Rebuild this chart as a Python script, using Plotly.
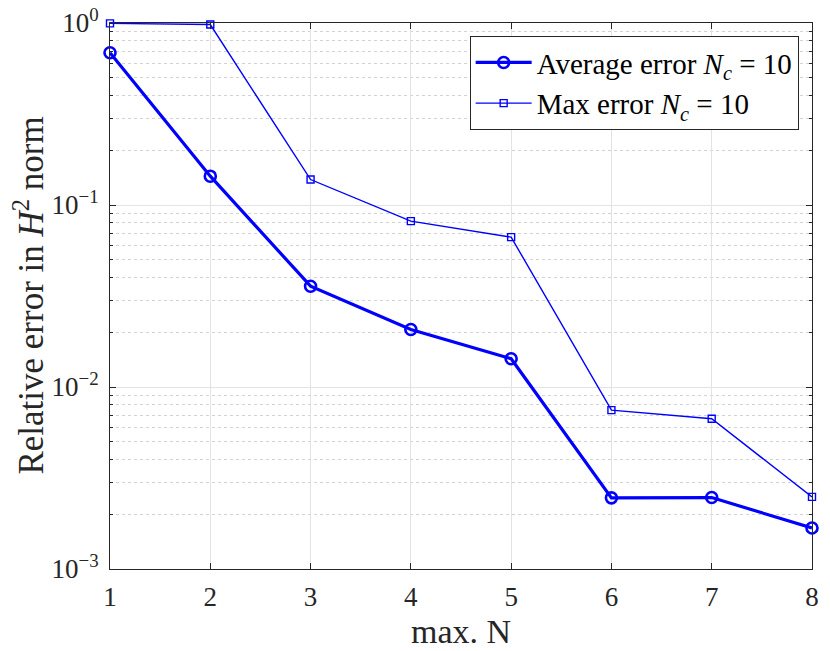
import plotly.graph_objects as go

max_n = [1, 2, 3, 4, 5, 6, 7, 8]
avg_error = [0.686, 0.144, 0.0358, 0.0207, 0.0143, 0.00246, 0.00247, 0.00168]
max_error = [0.995, 0.981, 0.138, 0.0815, 0.0666, 0.00746, 0.00669, 0.00249]

y_tickvals = [1e-3, 1e-2, 1e-1, 1e0]
y_ticktext = ["10<sup>−3</sup>", "10<sup>−2</sup>", "10<sup>−1</sup>", "10<sup>0</sup>"]
minor_vals = [m * 10.0 ** e for e in (-3, -2, -1) for m in range(2, 10)]

x_title = "max. N"
y_title = "Relative error in <i>H</i><sup>2</sup> norm"
legend_names = ["Average error <i>N</i><sub><i>c</i></sub> = 10",
                "Max error <i>N</i><sub><i>c</i></sub> = 10"]

FONT = "Liberation Serif"
BLUE = "#0000FF"
AXC = "#262626"

fig = go.Figure()
fig.add_trace(go.Scatter(
    x=max_n, y=avg_error, mode="lines+markers",
    name=legend_names[0],
    line=dict(color=BLUE, width=3.2),
    marker=dict(symbol="circle-open", size=11, color=BLUE, line=dict(width=2.6, color=BLUE)),
    cliponaxis=False,
))
fig.add_trace(go.Scatter(
    x=max_n, y=max_error, mode="lines+markers",
    name=legend_names[1],
    line=dict(color=BLUE, width=1.4),
    marker=dict(symbol="square-open", size=7, color=BLUE, line=dict(width=1.4, color=BLUE)),
    cliponaxis=False,
))

fig.update_layout(
    width=822, height=643,
    margin=dict(l=102, r=18, t=15, b=82, autoexpand=False),
    paper_bgcolor="white", plot_bgcolor="white",
    font=dict(family=FONT, size=27, color=AXC),
    legend=dict(
        x=0.981, y=0.976, xanchor="right", yanchor="top",
        bgcolor="white", bordercolor=AXC, borderwidth=1,
        font=dict(family=FONT, size=29, color="black"),
        tracegroupgap=0, itemwidth=56,
    ),
    showlegend=True,
    annotations=[
        dict(text=x_title, xref="paper", yref="paper", x=0.5, y=-0.115,
             xanchor="center", yanchor="middle", showarrow=False,
             font=dict(family=FONT, size=34, color=AXC)),
        dict(text=y_title, xref="paper", yref="paper", x=-0.116, y=0.5,
             xanchor="center", yanchor="middle", showarrow=False, textangle=-90,
             font=dict(family=FONT, size=35, color=AXC)),
    ],
)
fig.update_xaxes(
    range=[1, 8], tickvals=max_n, ticktext=[str(v) for v in max_n],
    showline=True, linecolor=AXC, linewidth=1, mirror="ticks",
    ticks="inside", ticklen=6, tickcolor=AXC, automargin=False,
    showgrid=True, gridcolor="#e3e3e3", gridwidth=1,
    zeroline=False, ticklabeloverflow="allow", ticklabelstandoff=4,
    tickfont=dict(family=FONT, size=27, color=AXC),
)
fig.update_yaxes(
    type="log", range=[-3, 0], tickvals=y_tickvals, ticktext=y_ticktext,
    showline=True, linecolor=AXC, linewidth=1, mirror="ticks",
    ticks="inside", ticklen=6, tickcolor=AXC, automargin=False,
    showgrid=True, gridcolor="#e3e3e3", gridwidth=1,
    zeroline=False, ticklabeloverflow="allow", ticklabelstandoff=5,
    minor=dict(tickvals=minor_vals, ticks="inside", ticklen=3, tickcolor=AXC,
               showgrid=True, gridcolor="#d2d2d2", griddash="dot", gridwidth=1),
    tickfont=dict(family=FONT, size=27, color=AXC),
)

fig.write_html("out.html")
